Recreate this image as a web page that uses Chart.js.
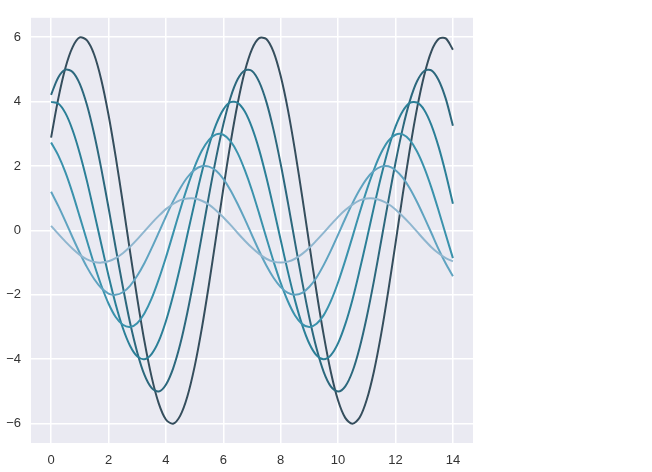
<!DOCTYPE html>
<html>
<head>
<meta charset="utf-8">
<script src="https://cdn.jsdelivr.net/npm/chart.js@4"></script>
<style>
  html, body { margin: 0; padding: 0; background: #fff; }
  #wrap { width: 652px; height: 472px; }
</style>
</head>
<body>
<div id="wrap"><canvas id="sinChart" width="652" height="472"></canvas></div>
<script>
// x samples
const xs = [0, 0.25, 0.5, 0.75, 1, 1.25, 1.5, 1.75, 2, 2.25, 2.5, 2.75, 3, 3.25, 3.5, 3.75,
  4, 4.25, 4.5, 4.75, 5, 5.25, 5.5, 5.75, 6, 6.25, 6.5, 6.75, 7, 7.25, 7.5, 7.75,
  8, 8.25, 8.5, 8.75, 9, 9.25, 9.5, 9.75, 10, 10.25, 10.5, 10.75, 11, 11.25, 11.5, 11.75,
  12, 12.25, 12.5, 12.75, 13, 13.25, 13.5, 13.75, 14];

// one array per curve (largest wave first)
const wave1 = [2.88, 4.09, 5.05, 5.69, 5.99, 5.90, 5.46, 4.67, 3.59, 2.29, 0.85, -0.65, -2.10, -3.43, -4.54, -5.37,
  -5.87, -6.00, -5.75, -5.15, -4.23, -3.05, -1.68, -0.20, 1.29, 2.70, 3.94, 4.94, 5.63, 5.97, 5.94, 5.54,
  4.79, 3.75, 2.47, 1.04, -0.45, -1.92, -3.26, -4.41, -5.28, -5.82, -6.00, -5.81, -5.25, -4.37, -3.22, -1.87,
  -0.40, 1.10, 2.52, 3.79, 4.82, 5.56, 5.94, 5.96, 5.61];
const wave2 = [4.21, 4.75, 4.99, 4.92, 4.55, 3.89, 2.99, 1.91, 0.71, -0.54, -1.75, -2.86, -3.78, -4.48, -4.89, -5.00,
  -4.79, -4.29, -3.53, -2.54, -1.40, -0.17, 1.08, 2.25, 3.29, 4.12, 4.69, 4.97, 4.95, 4.61, 3.99, 3.12,
  2.06, 0.87, -0.38, -1.60, -2.72, -3.67, -4.40, -4.85, -5.00, -4.84, -4.38, -3.64, -2.68, -1.56, -0.33, 0.91,
  2.10, 3.16, 4.02, 4.63, 4.95, 4.97, 4.67, 4.09, 3.25];
const wave3 = [3.99, 3.94, 3.64, 3.11, 2.39, 1.53, 0.56, -0.43, -1.40, -2.29, -3.03, -3.58, -3.91, -4.00, -3.84, -3.44,
  -2.82, -2.03, -1.12, -0.13, 0.86, 1.80, 2.63, 3.29, 3.75, 3.98, 3.96, 3.69, 3.19, 2.50, 1.65, 0.70,
  -0.30, -1.28, -2.18, -2.94, -3.52, -3.88, -4.00, -3.87, -3.50, -2.91, -2.15, -1.24, -0.27, 0.73, 1.68, 2.53,
  3.22, 3.70, 3.96, 3.97, 3.74, 3.27, 2.60, 1.77, 0.83];
const wave4 = [2.73, 2.33, 1.80, 1.15, 0.42, -0.32, -1.05, -1.71, -2.27, -2.69, -2.93, -3.00, -2.88, -2.58, -2.12, -1.52,
  -0.84, -0.10, 0.65, 1.35, 1.97, 2.47, 2.81, 2.98, 2.97, 2.77, 2.40, 1.87, 1.24, 0.52, -0.23, -0.96,
  -1.63, -2.20, -2.64, -2.91, -3.00, -2.90, -2.63, -2.19, -1.61, -0.93, -0.20, 0.55, 1.26, 1.89, 2.41, 2.78,
  2.97, 2.98, 2.80, 2.45, 1.95, 1.33, 0.62, -0.13, -0.86];
const wave5 = [1.20, 0.76, 0.28, -0.22, -0.70, -1.14, -1.51, -1.79, -1.96, -2.00, -1.92, -1.72, -1.41, -1.02, -0.56, -0.07,
  0.43, 0.90, 1.31, 1.65, 1.88, 1.99, 1.98, 1.85, 1.60, 1.25, 0.82, 0.35, -0.15, -0.64, -1.09, -1.47,
  -1.76, -1.94, -2.00, -1.94, -1.75, -1.46, -1.07, -0.62, -0.13, 0.37, 0.84, 1.26, 1.61, 1.85, 1.98, 1.99,
  1.87, 1.64, 1.30, 0.88, 0.41, -0.08, -0.58, -1.03, -1.42];
const wave6 = [0.14, -0.11, -0.35, -0.57, -0.76, -0.90, -0.98, -1.00, -0.96, -0.86, -0.71, -0.51, -0.28, -0.03, 0.22, 0.45,
  0.66, 0.82, 0.94, 0.99, 0.99, 0.92, 0.80, 0.62, 0.41, 0.17, -0.08, -0.32, -0.54, -0.73, -0.88, -0.97,
  -1.00, -0.97, -0.88, -0.73, -0.54, -0.31, -0.07, 0.18, 0.42, 0.63, 0.80, 0.93, 0.99, 0.99, 0.93, 0.82,
  0.65, 0.44, 0.21, -0.04, -0.29, -0.52, -0.71, -0.86, -0.96];

const xTicks = [0, 2, 4, 6, 8, 10, 12, 14];
const yTicks = [-6, -4, -2, 0, 2, 4, 6];

const waves = [wave1, wave2, wave3, wave4, wave5, wave6];
const colors = ["#354e5d", "#2c687d", "#2b7f97", "#3a92ac", "#5fa3c0", "#8fb6cf"];

// seaborn-like grey panel behind the plot
const panelBg = {
  id: "panelBg",
  beforeDraw(chart) {
    const { ctx, chartArea: a } = chart;
    ctx.save();
    ctx.fillStyle = "#eaeaf2";
    ctx.fillRect(a.left, a.top, a.right - a.left, a.bottom - a.top);
    ctx.restore();
  }
};

const fmt = v => (v < 0 ? "\u2212" + Math.abs(v) : String(v));

const ctx = document.getElementById("sinChart").getContext("2d");
new Chart(ctx, {
  type: "line",
  data: {
    datasets: waves.map((w, i) => ({
      data: w.map((y, j) => ({ x: xs[j], y: y })),
      borderColor: colors[i],
      borderWidth: 2,
      pointRadius: 0,
      tension: 0.3,
      fill: false,
      order: waves.length - i
    }))
  },
  options: {
    responsive: false,
    animation: false,
    layout: { padding: { left: 0, top: 14, right: 179, bottom: 0 } },
    plugins: { legend: { display: false }, tooltip: { enabled: false } },
    scales: {
      x: {
        type: "linear",
        min: -0.7,
        max: 14.7,
        afterBuildTicks: s => { s.ticks = xTicks.map(v => ({ value: v })); },
        afterFit: s => { s.height = 29; },
        border: { display: false },
        grid: { color: "#ffffff", lineWidth: 1.5, drawTicks: false },
        ticks: {
          padding: 10,
          color: "#333333",
          font: { family: "Liberation Sans", size: 13 },
          callback: v => fmt(v),
          maxRotation: 0
        }
      },
      y: {
        min: -6.6,
        max: 6.6,
        afterBuildTicks: s => { s.ticks = yTicks.map(v => ({ value: v })); },
        afterFit: s => { s.width = 31; },
        border: { display: false },
        grid: { color: "#ffffff", lineWidth: 1.5, drawTicks: false },
        ticks: {
          padding: 10,
          color: "#333333",
          font: { family: "Liberation Sans", size: 13 },
          callback: v => fmt(v)
        }
      }
    }
  },
  plugins: [panelBg]
});
</script>
</body>
</html>
